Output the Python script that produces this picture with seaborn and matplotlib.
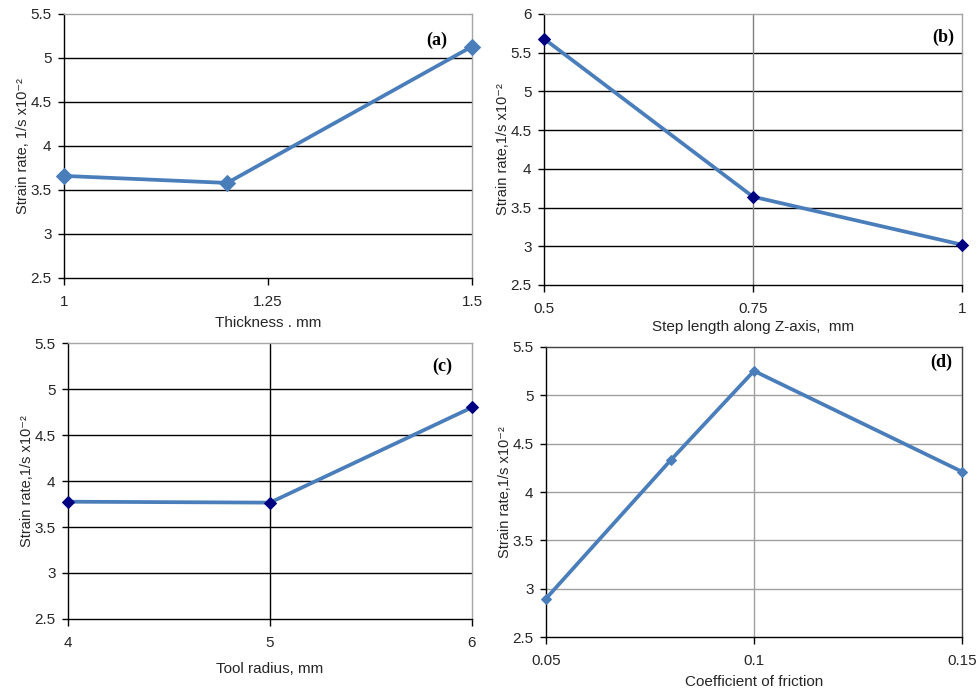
import matplotlib
matplotlib.use("Agg")
import matplotlib.pyplot as plt
import seaborn as sns

sns.set_style("white")
plt.rcParams['font.family'] = ['Liberation Sans', 'DejaVu Sans']

# Data
thickness = [1.0, 1.2, 1.5]
rate_a = [3.66, 3.58, 5.13]

step_length = [0.5, 0.75, 1.0]
rate_b = [5.68, 3.64, 3.02]

tool_radius = [4, 5, 6]
rate_c = [3.775, 3.765, 4.80]

friction = [0.05, 0.08, 0.10, 0.15]
rate_d = [2.90, 4.33, 5.25, 4.21]

xticks_a = [1, 1.25, 1.5]
xticklabels_a = ["1", "1.25", "1.5"]
xticks_b = [0.5, 0.75, 1]
xticklabels_b = ["0.5", "0.75", "1"]
xticks_c = [4, 5, 6]
xticklabels_c = ["4", "5", "6"]
xticks_d = [0.05, 0.1, 0.15]
xticklabels_d = ["0.05", "0.1", "0.15"]

LINE = "#4A7EBB"
NAVY = "#000080"
TXT = "#262626"

fig = plt.figure(figsize=(9.77, 6.92), dpi=100)

def setup(ax, xticks, xticklabels, ylim, yticks, xlabel, ylabel, tag, tagpos,
          hgrid, vgrid, vgrid_at, spine_tr, xlabelpad):
    ax.set_xlim(xticks[0], xticks[-1])
    ax.set_ylim(*ylim)
    ax.set_xticks(xticks)
    ax.set_xticklabels(xticklabels)
    ax.set_yticks(yticks)
    ax.set_yticklabels([("%g" % v) for v in yticks])
    for v in yticks[1:-1]:
        ax.axhline(v, color=hgrid, lw=1.0, zorder=1)
    if vgrid is not None:
        for v in vgrid_at:
            ax.axvline(v, color=vgrid, lw=1.0, zorder=1)
    for s in ["left", "bottom"]:
        ax.spines[s].set_color("black")
        ax.spines[s].set_linewidth(1.0)
    for s in ["top", "right"]:
        ax.spines[s].set_color(spine_tr)
        ax.spines[s].set_linewidth(1.0)
    ax.tick_params(axis="y", direction="out", length=4, width=1, color="black",
                   pad=5, labelsize=11, labelcolor=TXT, left=True)
    ax.tick_params(axis="x", direction="out", length=5, width=1, color="black",
                   pad=7, labelsize=11, labelcolor=TXT, bottom=True)
    ax.set_xlabel(xlabel, fontsize=11, color=TXT, labelpad=xlabelpad)
    ax.set_ylabel(ylabel, fontsize=10.5, color=TXT, labelpad=0)
    ax.text(tagpos[0], tagpos[1], tag, transform=ax.transAxes, ha="center",
            va="center", fontsize=13, fontweight="bold",
            family="Liberation Serif", color="black")
    ax.grid(False)
    for ln in ax.lines:
        ln.set_clip_on(False)

ylab_a = "Strain rate, 1/s x10\u207b\u00b2"
ylab = "Strain rate,1/s x10\u207b\u00b2"

# (a)
ax_a = fig.add_axes([0.0655, 0.5983, 0.4176, 0.3815])
sns.lineplot(x=thickness, y=rate_a, ax=ax_a, color=LINE, lw=2.7, marker="D",
             markersize=8, markeredgecolor=LINE, markerfacecolor=LINE, zorder=3)
setup(ax_a, xticks_a, xticklabels_a, (2.5, 5.5), [2.5, 3, 3.5, 4, 4.5, 5, 5.5],
      "Thickness . mm", ylab_a, "(a)", (0.914, 0.90), "black", None, [],
      "#A6A6A6", 5)

# (b)
ax_b = fig.add_axes([0.5568, 0.5882, 0.4278, 0.3916])
sns.lineplot(x=step_length, y=rate_b, ax=ax_b, color=LINE, lw=2.7, marker="D",
             markersize=6, markeredgecolor=NAVY, markerfacecolor=NAVY, zorder=3)
setup(ax_b, xticks_b, xticklabels_b, (2.5, 6), [2.5, 3, 3.5, 4, 4.5, 5, 5.5, 6],
      "Step length along Z-axis,  mm", ylab, "(b)", (0.955, 0.915), "black",
      "#808080", [0.75], "#A6A6A6", 3)

# (c)
ax_c = fig.add_axes([0.0696, 0.1055, 0.4135, 0.3988])
sns.lineplot(x=tool_radius, y=rate_c, ax=ax_c, color=LINE, lw=2.7, marker="D",
             markersize=6, markeredgecolor=NAVY, markerfacecolor=NAVY, zorder=3)
setup(ax_c, xticks_c, xticklabels_c, (2.5, 5.5), [2.5, 3, 3.5, 4, 4.5, 5, 5.5],
      "Tool radius, mm", ylab, "(c)", (0.926, 0.917), "black", "black", [5],
      "#A6A6A6", 9)

# (d)
ax_d = fig.add_axes([0.5589, 0.0790, 0.4257, 0.4200])
sns.lineplot(x=friction, y=rate_d, ax=ax_d, color=LINE, lw=2.7, marker="D",
             markersize=5, markeredgecolor=LINE, markerfacecolor=LINE, zorder=3)
setup(ax_d, xticks_d, xticklabels_d, (2.5, 5.5), [2.5, 3, 3.5, 4, 4.5, 5, 5.5],
      "Coefficient of friction", ylab, "(d)", (0.95, 0.947), "#A0A0A0",
      "#A0A0A0", [0.1], "#404040", 5)

fig.savefig("out.png", dpi=100)
